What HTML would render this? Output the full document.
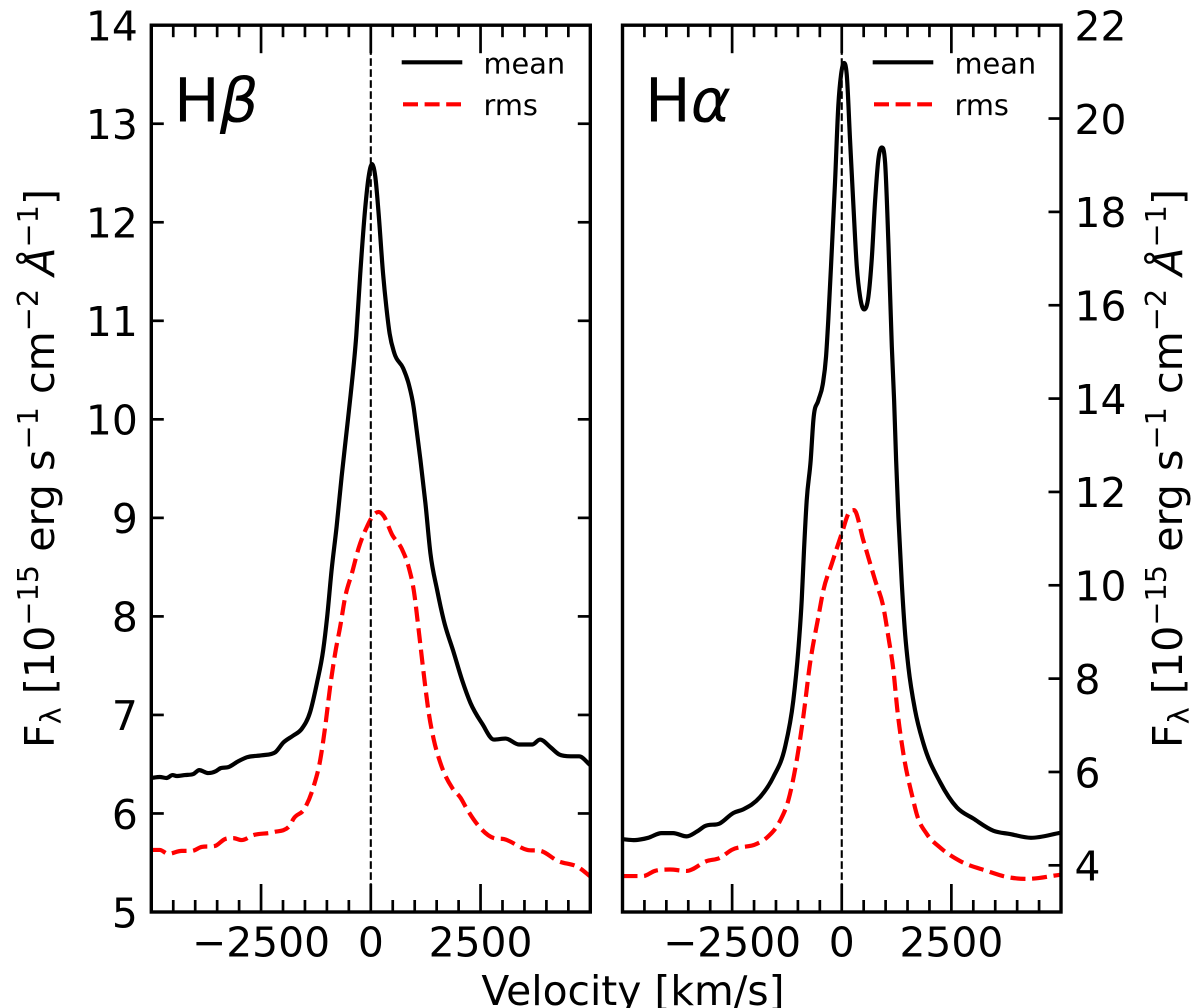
<!DOCTYPE html>
<html lang="en">
<head>
<meta charset="utf-8">
<title>Mean and rms line profiles</title>
<style>
html,body{margin:0;padding:0;background:#fff;width:1200px;height:1008px;overflow:hidden}
svg{display:block;font-family:"DejaVu Sans","Liberation Sans",sans-serif}
</style>
</head>
<body>
<svg id="chart" xmlns="http://www.w3.org/2000/svg" width="1200" height="1008" viewBox="0 0 1200 1008">
  <defs>
    <clipPath id="clip-left"><rect x="151.3" y="25.2" width="439" height="887"/></clipPath>
    <clipPath id="clip-right"><rect x="622.5" y="25.2" width="438.5" height="887"/></clipPath>
  </defs>
  <g id="panel-left"></g>
  <g id="panel-right"></g>

  <text x="174" y="121.7" font-size="60.8">H<tspan font-style="italic">β</tspan></text>
  <text x="645" y="121.7" font-size="60.8">H<tspan font-style="italic">α</tspan></text>

  <g>
    <line x1="401.7" x2="462.3" y1="62.3" y2="62.3" stroke="#000" stroke-width="4.2"/>
    <text x="483.5" y="73.3" font-size="28.8">mean</text>
    <line x1="403" x2="461" y1="104.3" y2="104.3" stroke="#f00" stroke-width="4.2" stroke-dasharray="15 6.6"/>
    <text x="483.5" y="115" font-size="28.8">rms</text>
  </g>
  <g>
    <line x1="872.7" x2="933.3" y1="62.3" y2="62.3" stroke="#000" stroke-width="4.2"/>
    <text x="954.5" y="73.3" font-size="28.8">mean</text>
    <line x1="874" x2="932" y1="104.3" y2="104.3" stroke="#f00" stroke-width="4.2" stroke-dasharray="15 6.6"/>
    <text x="954.5" y="115" font-size="28.8">rms</text>
  </g>

  <text x="633" y="1005" font-size="40.8" text-anchor="middle">Velocity [km/s]</text>

  <text transform="translate(54 748) rotate(-90)" font-size="41.2">F<tspan dy="6.5" font-size="28.8">λ</tspan><tspan dy="-6.5"> [10</tspan><tspan dy="-16" font-size="28.8">−15</tspan><tspan dy="16"> erg s</tspan><tspan dy="-16" font-size="28.8">−1</tspan><tspan dy="16"> cm</tspan><tspan dy="-16" font-size="28.8">−2</tspan><tspan dy="16" font-style="italic"> Å</tspan><tspan dy="-16" font-size="28.8">−1</tspan><tspan dy="16">]</tspan></text>
  <text transform="translate(1182 748) rotate(-90)" font-size="41.2">F<tspan dy="6.5" font-size="28.8">λ</tspan><tspan dy="-6.5"> [10</tspan><tspan dy="-16" font-size="28.8">−15</tspan><tspan dy="16"> erg s</tspan><tspan dy="-16" font-size="28.8">−1</tspan><tspan dy="16"> cm</tspan><tspan dy="-16" font-size="28.8">−2</tspan><tspan dy="16" font-style="italic"> Å</tspan><tspan dy="-16" font-size="28.8">−1</tspan><tspan dy="16">]</tspan></text>
</svg>
<script>
// Velocity axis ticks (km/s)
const xMajorTicks = [-2500, 0, 2500];
const xMajorLabels = ["\u22122500", "0", "2500"];
const xMinorTicks = [-4500, -4000, -3500, -3000, -2000, -1500, -1000, -500, 500, 1000, 1500, 2000, 3000, 3500, 4000, 4500];

// H-beta panel flux ticks
const betaYTicks = [5, 6, 7, 8, 9, 10, 11, 12, 13, 14];
// H-alpha panel flux ticks
const alphaYTicks = [4, 6, 8, 10, 12, 14, 16, 18, 20, 22];

// H-beta mean
const betaMeanV = [-5000,-4806,-4653,-4516,-4424,-4235,-4045,-3908,-3703,-3527,-3420,-3246,-3018,-2826,-2484,-2180,-1991,-1769,-1571,-1382,-1229,-1084,-993,-893,-779,-664,-550,-459,-331,-240,-126,-50,27,103,178,279,354,429,537,735,863,977,1016,1130,1244,1358,1510,1662,1891,2082,2272,2539,2804,3071,3374,3680,3854,4098,4288,4555,4744,5000];
const betaMeanF = [6.36,6.37,6.36,6.39,6.38,6.39,6.40,6.44,6.41,6.43,6.46,6.47,6.53,6.57,6.59,6.62,6.72,6.79,6.86,7.03,7.32,7.66,8.00,8.47,8.91,9.42,9.88,10.25,10.85,11.48,12.15,12.46,12.59,12.46,12.09,11.48,11.14,10.87,10.67,10.52,10.36,10.12,9.99,9.59,9.15,8.64,8.27,7.96,7.63,7.35,7.12,6.91,6.75,6.76,6.70,6.70,6.75,6.67,6.60,6.58,6.58,6.49];

// H-beta rms
const betaRmsV = [-5000,-4806,-4617,-4310,-4082,-3854,-3550,-3322,-3132,-2941,-2676,-2219,-1838,-1769,-1507,-1306,-1153,-1039,-925,-810,-696,-582,-429,-279,-87,64,178,292,484,712,863,977,1091,1205,1320,1434,1587,1854,2043,2196,2425,2804,3032,3566,3870,4251,4744,5000];
const betaRmsF = [5.63,5.63,5.59,5.62,5.62,5.66,5.67,5.74,5.75,5.73,5.78,5.81,5.88,5.94,6.05,6.27,6.54,6.88,7.29,7.63,7.90,8.20,8.44,8.69,8.91,9.03,9.06,9.02,8.83,8.68,8.50,8.27,7.86,7.42,7.02,6.75,6.51,6.26,6.16,6.04,5.89,5.75,5.74,5.63,5.62,5.52,5.45,5.36];

// H-alpha mean
const alphaMeanV = [-5000,-4742,-4415,-4109,-3845,-3539,-3310,-3121,-2778,-2475,-2246,-1865,-1562,-1294,-1105,-991,-913,-861,-799,-708,-648,-534,-434,-358,-306,-228,-153,-78,-16,53,114,189,265,342,418,509,607,685,760,836,913,989,1064,1142,1194,1240,1292,1370,1445,1520,1673,1863,2244,2625,3004,3461,3842,4315,5000];
const alphaMeanF = [4.56,4.54,4.59,4.69,4.69,4.62,4.72,4.84,4.90,5.12,5.20,5.46,5.89,6.53,7.53,8.61,9.68,10.75,11.82,12.68,13.53,13.96,14.30,14.90,15.70,17.16,18.64,20.28,20.94,21.19,20.94,19.54,18.15,16.84,16.18,15.91,16.18,17.00,18.23,19.13,19.38,19.05,17.33,15.11,13.96,12.68,11.46,10.03,8.96,8.25,7.32,6.61,5.78,5.24,5.00,4.74,4.67,4.59,4.70];

// H-alpha rms
const alphaRmsV = [-5000,-4529,-4262,-3920,-3539,-3082,-2778,-2511,-1941,-1712,-1409,-1219,-1027,-877,-724,-534,-420,-228,0,174,281,493,760,950,1064,1178,1269,1406,1621,1712,1941,2244,2701,3310,3767,4224,5000];
const alphaRmsF = [3.77,3.77,3.88,3.91,3.88,4.09,4.16,4.33,4.46,4.59,4.95,5.39,6.25,7.18,8.32,9.32,9.89,10.46,11.11,11.57,11.61,10.96,10.11,9.53,8.89,8.18,7.32,6.39,5.43,5.09,4.67,4.38,4.09,3.88,3.75,3.71,3.80];

const NS = "http://www.w3.org/2000/svg";
const PANEL_TOP = 25.2, PANEL_BOTTOM = 912;

function axisX(left, width) {
  return function (v) { return left + (v + 5000) / 10000 * width; };
}
function axisY(fmin, fmax) {
  return function (f) { return PANEL_BOTTOM - (f - fmin) / (fmax - fmin) * (PANEL_BOTTOM - PANEL_TOP); };
}
function tickLine(parent, x1, y1, x2, y2) {
  const el = document.createElementNS(NS, "line");
  el.setAttribute("x1", x1);
  el.setAttribute("y1", y1);
  el.setAttribute("x2", x2);
  el.setAttribute("y2", y2);
  el.setAttribute("stroke", "#000");
  el.setAttribute("stroke-width", "2.7");
  
  
  parent.appendChild(el);
}
function tickText(parent, x, y, anchor, str) {
  const el = document.createElementNS(NS, "text");
  el.setAttribute("x", x);
  el.setAttribute("y", y);
  el.setAttribute("text-anchor", anchor);
  el.setAttribute("font-size", "40.8");
  el.textContent = str;
  
  
  parent.appendChild(el);
}
function monotoneSlopes(xs, ys) {
  const n = xs.length, d = [], m = [];
  for (let i = 0; i < n - 1; i++) d.push((ys[i + 1] - ys[i]) / (xs[i + 1] - xs[i]));
  m.push(d[0]);
  for (let i = 1; i < n - 1; i++) {
    if (d[i - 1] * d[i] <= 0) { m.push(0); continue; }
    const h0 = xs[i] - xs[i - 1], h1 = xs[i + 1] - xs[i];
    const avg = (h1 * d[i - 1] + h0 * d[i]) / (h0 + h1);
    const lim = 3 * Math.min(Math.abs(d[i - 1]), Math.abs(d[i]));
    m.push(Math.sign(avg) * Math.min(Math.abs(avg), lim));
  }
  m.push(d[n - 2]);
  return m;
}
function smoothPath(xs, ys) {
  const m = monotoneSlopes(xs, ys);
  let d = "M" + xs[0].toFixed(2) + " " + ys[0].toFixed(2);
  for (let i = 0; i < xs.length - 1; i++) {
    const h = (xs[i + 1] - xs[i]) / 3;
    d += "C" + (xs[i] + h).toFixed(2) + " " + (ys[i] + m[i] * h).toFixed(2) + " " +
         (xs[i + 1] - h).toFixed(2) + " " + (ys[i + 1] - m[i + 1] * h).toFixed(2) + " " +
         xs[i + 1].toFixed(2) + " " + ys[i + 1].toFixed(2);
  }
  return d;
}
function drawSeries(parent, clipId, sx, sy, vs, fs, color, dashed) {
  const el = document.createElementNS(NS, "path");
  el.setAttribute("d", smoothPath(vs.map(sx), fs.map(sy)));
  el.setAttribute("fill", "none");
  el.setAttribute("stroke", color);
  el.setAttribute("stroke-width", "4.2");
  el.setAttribute("stroke-linejoin", "round");
  el.setAttribute("clip-path", "url(#" + clipId + ")");
  if (dashed) el.setAttribute("stroke-dasharray", "15 6.6");
  
  
  parent.appendChild(el);
}
function drawPanel(opts) {
  const g = document.getElementById(opts.id);
  const sx = axisX(opts.left, opts.width);
  const sy = axisY(opts.fmin, opts.fmax);
  const right = opts.left + opts.width;

  drawSeries(g, opts.clip, sx, sy, opts.meanV, opts.meanF, "#000", false);
  drawSeries(g, opts.clip, sx, sy, opts.rmsV, opts.rmsF, "#f00", true);

  const zero = document.createElementNS(NS, "line");
  zero.setAttribute("x1", sx(0));
  zero.setAttribute("x2", sx(0));
  zero.setAttribute("y1", PANEL_TOP);
  zero.setAttribute("y2", PANEL_BOTTOM);
  zero.setAttribute("stroke", "#000");
  zero.setAttribute("stroke-width", "2.1");
  zero.setAttribute("stroke-dasharray", "7.7 3.3");
  
  
  g.appendChild(zero);

  xMajorTicks.forEach(function (v, i) {
    tickLine(g, sx(v), PANEL_BOTTOM, sx(v), PANEL_BOTTOM - 28);
    tickLine(g, sx(v), PANEL_TOP, sx(v), PANEL_TOP + 28);
    tickText(g, sx(v), 956.7, "middle", xMajorLabels[i]);
  });
  xMinorTicks.forEach(function (v) {
    tickLine(g, sx(v), PANEL_BOTTOM, sx(v), PANEL_BOTTOM - 12);
    tickLine(g, sx(v), PANEL_TOP, sx(v), PANEL_TOP + 12);
  });
  opts.yTicks.forEach(function (f) {
    const y = sy(f);
    if (opts.tickLeft) tickLine(g, opts.left, y, opts.left + 12.5, y);
    tickLine(g, right, y, right - 12.5, y);
    if (opts.tickLeft) tickText(g, opts.left - 13.5, y + 15.3, "end", String(f));
    else tickText(g, right + 13.5, y + 15.3, "start", String(f));
  });

  const frame = document.createElementNS(NS, "rect");
  frame.setAttribute("x", opts.left);
  frame.setAttribute("y", PANEL_TOP);
  frame.setAttribute("width", opts.width);
  frame.setAttribute("height", PANEL_BOTTOM - PANEL_TOP);
  frame.setAttribute("fill", "none");
  frame.setAttribute("stroke", "#000");
  frame.setAttribute("stroke-width", "3.4");
  
  
  g.appendChild(frame);
}
drawPanel({ id: "panel-left", clip: "clip-left", left: 151.3, width: 439, fmin: 5, fmax: 14, yTicks: betaYTicks, tickLeft: true,
  meanV: betaMeanV, meanF: betaMeanF, rmsV: betaRmsV, rmsF: betaRmsF });
drawPanel({ id: "panel-right", clip: "clip-right", left: 622.5, width: 438.5, fmin: 3, fmax: 22, yTicks: alphaYTicks, tickLeft: false,
  meanV: alphaMeanV, meanF: alphaMeanF, rmsV: alphaRmsV, rmsF: alphaRmsF });
</script>
</body>
</html>
